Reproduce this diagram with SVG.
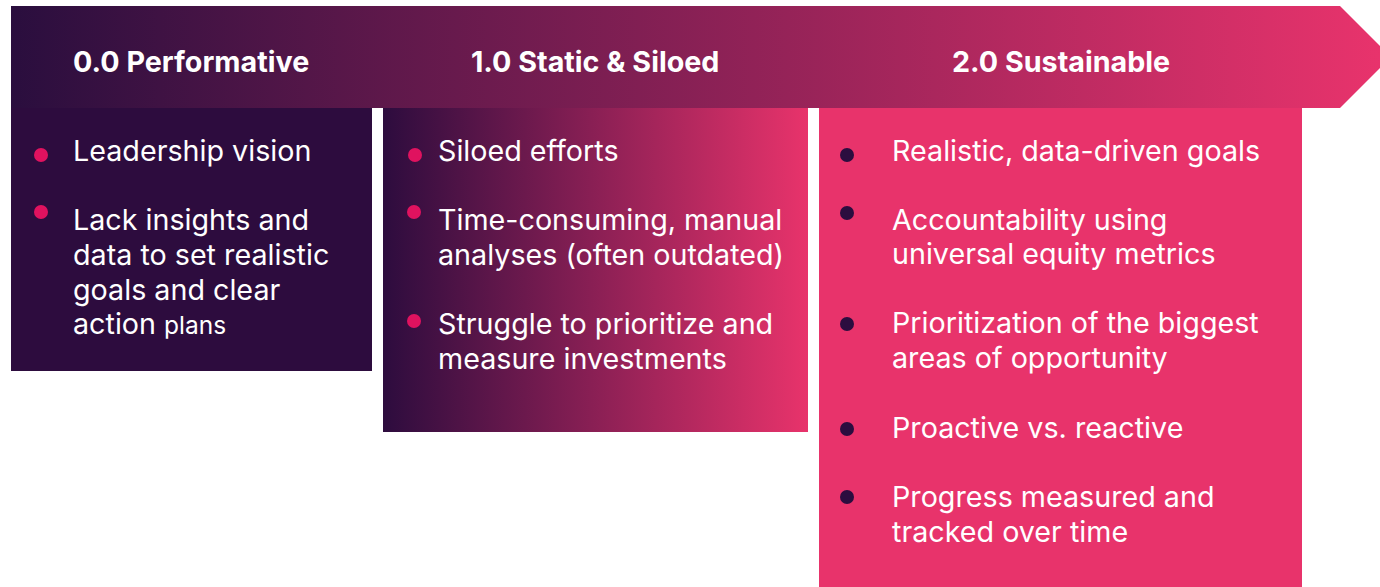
<svg xmlns="http://www.w3.org/2000/svg" width="1380" height="587" viewBox="0 0 1380 587">
  <style>
    .hd { font-family: Inter, "Noto Sans", "Liberation Sans", sans-serif; font-weight: 700; font-size: 28.7px; fill: #ffffff; }
    .tx { font-family: Inter, "Noto Sans", "Liberation Sans", sans-serif; font-weight: 400; font-size: 28.7px; fill: #ffffff; }
    .sm { font-size: 24.5px; }
    .dotPink { fill: #e0125f; }
    .dotDark { fill: #2b0d3f; }
  </style>
  <defs>
    <linearGradient id="bandGrad" gradientUnits="userSpaceOnUse" x1="11" y1="0" x2="1380" y2="0">
      <stop offset="0" stop-color="#2a0e3e"/>
      <stop offset="1" stop-color="#e8336c"/>
    </linearGradient>
    <linearGradient id="midGrad" gradientUnits="userSpaceOnUse" x1="383" y1="0" x2="808" y2="0">
      <stop offset="0" stop-color="#2d0c3e"/>
      <stop offset="1" stop-color="#e8336b"/>
    </linearGradient>
  </defs>

  <!-- top arrow band with stage titles -->
  <g id="band">
    <polygon points="11,6 1340,6 1391,57 1340,108 11,108" fill="url(#bandGrad)"/>
    <text class="hd" x="73" y="72">0.0 Performative</text>
    <text class="hd" x="471" y="72">1.0 Static &amp; Siloed</text>
    <text class="hd" x="952" y="72">2.0 Sustainable</text>
  </g>

  <!-- stage 0.0 -->
  <g id="stage-performative">
    <rect x="11" y="108" width="361" height="263" fill="#2d0c3e"/>
    <circle class="dotPink" cx="41" cy="155" r="7"/>
    <text class="tx" x="73" y="161">Leadership vision</text>
    <circle class="dotPink" cx="41" cy="212" r="7"/>
    <text class="tx" x="73" y="230">Lack insights and</text>
    <text class="tx" x="73" y="265">data to set realistic</text>
    <text class="tx" x="73" y="300">goals and clear</text>
    <text class="tx" x="73" y="334">action <tspan class="sm">plans</tspan></text>
  </g>

  <!-- stage 1.0 -->
  <g id="stage-static">
    <rect x="383" y="108" width="425" height="324" fill="url(#midGrad)"/>
    <circle class="dotPink" cx="415" cy="155" r="7"/>
    <text class="tx" x="438" y="161">Siloed efforts</text>
    <circle class="dotPink" cx="414" cy="212" r="7"/>
    <text class="tx" x="438" y="230">Time-consuming, manual</text>
    <text class="tx" x="438" y="265">analyses (often outdated)</text>
    <circle class="dotPink" cx="414" cy="321" r="7"/>
    <text class="tx" x="438" y="334">Struggle to prioritize and</text>
    <text class="tx" x="438" y="369">measure investments</text>
  </g>

  <!-- stage 2.0 -->
  <g id="stage-sustainable">
    <rect x="819" y="108" width="483" height="479" fill="#e8336b"/>
    <circle class="dotDark" cx="847" cy="155" r="7"/>
    <text class="tx" x="892" y="161">Realistic, data-driven goals</text>
    <circle class="dotDark" cx="847" cy="213" r="7"/>
    <text class="tx" x="892" y="230">Accountability using</text>
    <text class="tx" x="892" y="264">universal equity metrics</text>
    <circle class="dotDark" cx="847" cy="324" r="7"/>
    <text class="tx" x="892" y="333">Prioritization of the biggest</text>
    <text class="tx" x="892" y="368">areas of opportunity</text>
    <circle class="dotDark" cx="847" cy="429" r="7"/>
    <text class="tx" x="892" y="438">Proactive vs. reactive</text>
    <circle class="dotDark" cx="847" cy="497" r="7"/>
    <text class="tx" x="892" y="507">Progress measured and</text>
    <text class="tx" x="892" y="542">tracked over time</text>
  </g>

  <g id="connectors"/>
</svg>
